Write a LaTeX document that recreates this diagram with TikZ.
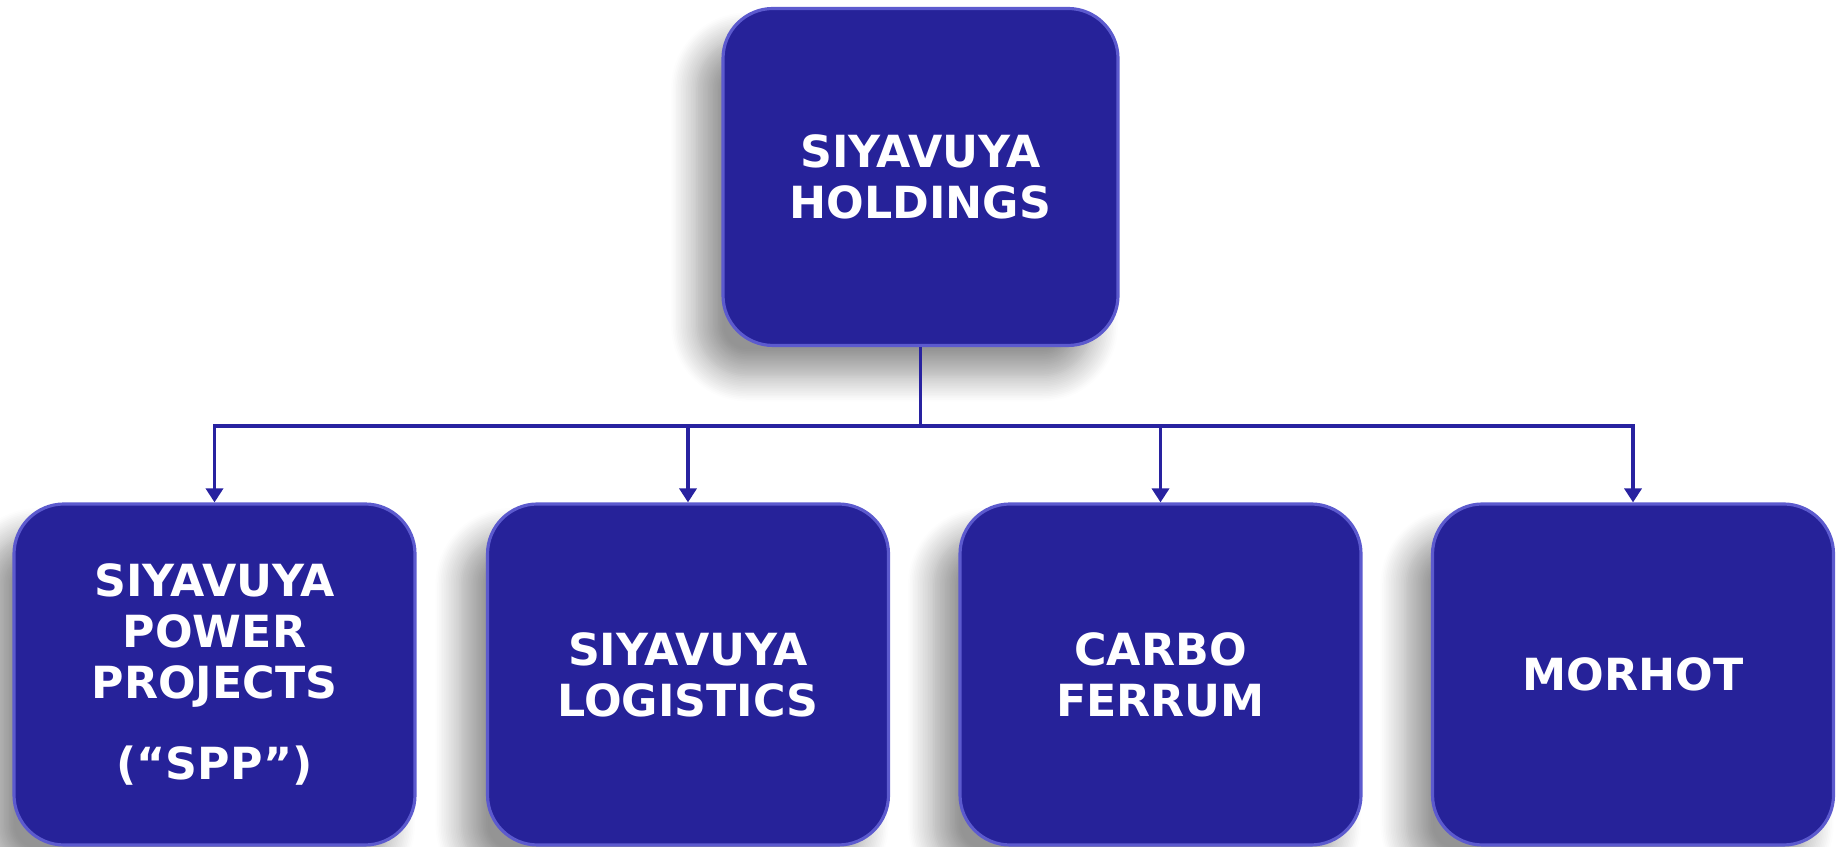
\documentclass[tikz,border=0pt]{standalone}
\usepackage{fontspec}
\setmainfont{DejaVu Sans}
\usetikzlibrary{arrows.meta,shadows.blur}

\definecolor{boxblue}{RGB}{38,34,153}
\definecolor{edgeblue}{RGB}{92,90,206}
\definecolor{linkblue}{RGB}{40,34,160}

\tikzset{
  company/.style={rectangle, rounded corners=0.5cm, fill=boxblue, draw=edgeblue,
    line width=0.9pt, text=white, align=center, inner sep=0pt,
    font=\bfseries\fontsize{12.6}{14.5}\selectfont,
    blur shadow={shadow xshift=-0.26cm, shadow yshift=-0.3cm,
      shadow blur radius=0.26cm, shadow blur steps=16, shadow opacity=42}},
  link/.style={linkblue, line width=1pt},
  linkarrow/.style={link, -{Triangle[length=1.4mm,width=1.7mm]}}
}

\begin{document}
\begin{tikzpicture}
\useasboundingbox (0,0) rectangle (18.37,8.47);

% Parent company
\node[company, minimum width=3.95cm, minimum height=3.37cm] (holdings) at (9.205,6.7)
  {SIYAVUYA\\HOLDINGS};

% Subsidiaries
\node[company, minimum width=4.01cm, minimum height=3.41cm] (spp) at (2.145,1.725)
  {SIYAVUYA\\POWER\\PROJECTS\\[8.5pt](“SPP”)};
\node[company, minimum width=4.01cm, minimum height=3.41cm] (logistics) at (6.88,1.725)
  {SIYAVUYA\\LOGISTICS};
\node[company, minimum width=4.01cm, minimum height=3.41cm] (carbo) at (11.605,1.725)
  {CARBO\\FERRUM};
\node[company, minimum width=4.01cm, minimum height=3.41cm] (morhot) at (16.33,1.725)
  {MORHOT};

% Ownership lines
\coordinate (bus) at (9.205,4.21);
\draw[link] (holdings.south) -- (bus);
\draw[linkarrow] (bus) -| (spp.north);
\draw[linkarrow] (bus) -| (logistics.north);
\draw[linkarrow] (bus) -| (carbo.north);
\draw[linkarrow] (bus) -| (morhot.north);

\end{tikzpicture}
\end{document}
